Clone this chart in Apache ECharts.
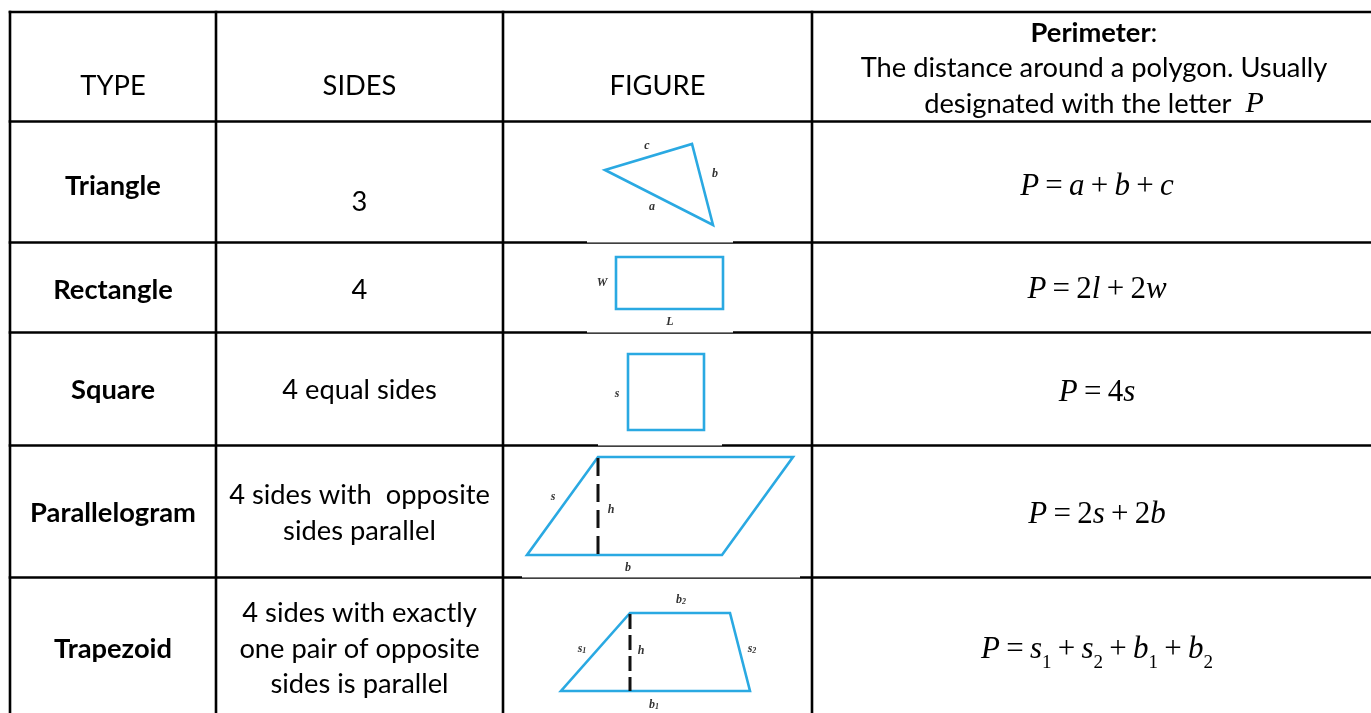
<!DOCTYPE html>
<html>
<head>
<meta charset="utf-8">
<script src="https://cdn.jsdelivr.net/npm/echarts@6/dist/echarts.min.js"></script>
<style>
    html, body { margin: 0; padding: 0; background: #fff; }
    #main { width: 1371px; height: 713px; }
</style>
</head>
<body>
<div id="main"></div>
<script>
    // table frame (column / row boundaries)
    var colX = [10, 216, 503, 812, 1371];
    var rowY = [12, 121.5, 242.5, 332.5, 445.5, 577.5, 713];

    // cell text
    var headers = ['TYPE', 'SIDES', 'FIGURE'];
    var types = ['Triangle', 'Rectangle', 'Square', 'Parallelogram', 'Trapezoid'];
    var sides = ['3', '4', '4 equal sides', '4 sides with  opposite\nsides parallel', '4 sides with exactly\none pair of opposite\nsides is parallel'];
    var perimeterHead = '{b|Perimeter}{n|:}\n{n|The distance around a polygon. Usually}\n{n|designated with the letter  }{p|P}';
    var formulas = [
        '{i|P}{g| }={g| }{i|a}{g| }+{g| }{i|b}{g| }+{g| }{i|c}',
        '{i|P}{g| }={g| }2{i|l}{g| }+{g| }2{i|w}',
        '{i|P}{g| }={g| }4{i|s}',
        '{i|P}{g| }={g| }2{i|s}{g| }+{g| }2{i|b}',
        '{i|P}{g| }={g| }{i|s}{s|1}{g| }+{g| }{i|s}{s|2}{g| }+{g| }{i|b}{s|1}{g| }+{g| }{i|b}{s|2}'
    ];

    // figures (vertices)
    var triangle = [[605, 170], [692, 144], [713, 225]];
    var rectangle = [[616, 257], [723, 257], [723, 309], [616, 309]];
    var square = [[628, 354], [704, 354], [704, 430], [628, 430]];
    var parallelogram = [[598, 457], [793, 457], [722, 555], [527, 555]];
    var trapezoid = [[630, 613], [730, 613], [750, 691], [561, 691]];
    var heights = [[598, 458, 598, 555], [630, 614, 630, 691]];
    var figLabels = [
        ['c', 647, 146], ['b', 715, 174], ['a', 652, 207],
        ['W', 602, 283], ['L', 670, 322],
        ['s', 617, 394],
        ['s', 553, 497], ['h', 611, 510], ['b', 628, 568],
        ['b{ls|2}', 681, 600], ['s{ls|1}', 582, 649], ['h', 641, 651], ['s{ls|2}', 752, 649], ['b{ls|1}', 654, 705]
    ];
    // white picture backgrounds that sit over the row lines
    var imgBoxes = [[587, 130, 733, 242.5], [587, 250, 733, 332.5], [598, 340, 722, 445.5], [522, 450, 800, 577.5]];

    var blue = '#2aa9e2';
    var textFont = 'Lato';
    var mathFont = 'Liberation Serif';
    var textSize = 27.3;

    var lineData = [];
    rowY.slice(0, -1).forEach(function (y) { lineData.push([colX[0], y, colX[4], y]); });
    colX.slice(0, -1).forEach(function (x) { lineData.push([x, rowY[0], x, rowY[6]]); });

    var shapes = [triangle, rectangle, square, parallelogram, trapezoid];

    // text items: [x, y, kind, text]
    var colMid = [113, 359.5, 657.5, 1097];
    var rowTextY = [186, 290, 390, 513, 649];
    var sidesY = [202, 290, 390, 513, 649];
    var formulaY = [187, 290, 393, 515, 650];
    var texts = [];
    headers.forEach(function (h, i) { texts.push([colMid[i], 86, 'head', h]); });
    texts.push([1094, 68.5, 'perim', perimeterHead]);
    types.forEach(function (t, i) { texts.push([colMid[0], rowTextY[i], 'type', t]); });
    sides.forEach(function (t, i) { texts.push([colMid[1], sidesY[i], 'side', t]); });
    formulas.forEach(function (t, i) { texts.push([colMid[3], formulaY[i], 'math', t]); });
    figLabels.forEach(function (l) { texts.push([l[1], l[2], 'fig', l[0]]); });

    var mathRich = {
        i: { fontFamily: mathFont, fontSize: 31, fontStyle: 'italic', lineHeight: 46, fill: '#000' },
        g: { fontFamily: mathFont, fontSize: 25, lineHeight: 46, fill: '#000' },
        s: { fontFamily: mathFont, fontSize: 19, lineHeight: 19, verticalAlign: 'bottom', fill: '#000' }
    };
    var headRich = {
        b: { fontFamily: textFont, fontSize: textSize, fontWeight: 'bold', lineHeight: 35.5, fill: '#000' },
        n: { fontFamily: textFont, fontSize: textSize, lineHeight: 35.5, fill: '#000' },
        p: { fontFamily: mathFont, fontSize: 30, fontStyle: 'italic', lineHeight: 35.5, fill: '#000' }
    };
    var figRich = {
        ls: { fontFamily: mathFont, fontSize: 8, fontStyle: 'italic', fontWeight: 'bold', verticalAlign: 'bottom', fill: '#333' }
    };

    function textStyle(kind, str) {
        var st = { text: str, align: 'center', verticalAlign: 'middle', fill: '#000' };
        if (kind == 'head' || kind == 'side') {
            st.fontFamily = textFont; st.fontSize = textSize; st.lineHeight = 35.5;
        } else if (kind == 'type') {
            st.fontFamily = textFont; st.fontSize = textSize; st.fontWeight = 'bold';
        } else if (kind == 'perim') {
            st.rich = headRich;
        } else if (kind == 'math') {
            st.fontFamily = mathFont; st.fontSize = 31; st.lineHeight = 46;
            st.rich = mathRich;
        } else {
            st.fontFamily = mathFont; st.fontSize = 12; st.fontStyle = 'italic'; st.fontWeight = 'bold';
            st.fill = '#333'; st.rich = figRich;
        }
        return st;
    }

    var option = {
        animation: false,
        backgroundColor: '#fff',
        grid: { left: 0, right: 0, top: 0, bottom: 0 },
        xAxis: { type: 'value', min: 0, max: 1371, show: false },
        yAxis: { type: 'value', min: 0, max: 713, inverse: true, show: false },
        series: [
            {
                name: 'frame',
                type: 'custom',
                clip: false,
                z: 1,
                data: lineData,
                renderItem: function (params, api) {
                    var a = api.coord([api.value(0), api.value(1)]);
                    var b = api.coord([api.value(2), api.value(3)]);
                    return {
                        type: 'line',
                        shape: { x1: a[0], y1: a[1], x2: b[0], y2: b[1] },
                        style: { stroke: '#000', lineWidth: 2.6, lineCap: 'square' }
                    };
                }
            },
            {
                name: 'pictures',
                type: 'custom',
                clip: false,
                z: 2,
                data: imgBoxes,
                renderItem: function (params, api) {
                    var a = api.coord([api.value(0), api.value(1)]);
                    var b = api.coord([api.value(2), api.value(3)]);
                    return {
                        type: 'rect',
                        shape: { x: a[0], y: a[1], width: b[0] - a[0], height: b[1] - a[1] },
                        style: { fill: '#fff' }
                    };
                }
            },
            {
                name: 'shapes',
                type: 'custom',
                clip: false,
                z: 3,
                data: shapes.map(function (s, i) { return [i]; }),
                renderItem: function (params, api) {
                    var pts = shapes[api.value(0)].map(function (p) { return api.coord(p); });
                    return {
                        type: 'polygon',
                        shape: { points: pts },
                        style: { fill: 'none', stroke: blue, lineWidth: 2.6, lineJoin: 'miter' }
                    };
                }
            },
            {
                name: 'heights',
                type: 'custom',
                clip: false,
                z: 4,
                data: heights,
                renderItem: function (params, api) {
                    var a = api.coord([api.value(0), api.value(1)]);
                    var b = api.coord([api.value(2), api.value(3)]);
                    var dash = params.dataIndex == 0 ? [18, 8] : [15, 6];
                    return {
                        type: 'line',
                        shape: { x1: a[0], y1: a[1], x2: b[0], y2: b[1] },
                        style: { stroke: '#111', lineWidth: 3, lineDash: dash }
                    };
                }
            },
            {
                name: 'texts',
                type: 'custom',
                clip: false,
                z: 5,
                data: texts.map(function (t, i) { return [t[0], t[1], i]; }),
                renderItem: function (params, api) {
                    var t = texts[api.value(2)];
                    var p = api.coord([api.value(0), api.value(1)]);
                    return {
                        type: 'text',
                        x: p[0],
                        y: p[1],
                        style: textStyle(t[2], t[3])
                    };
                }
            }
        ]
    };

    var chart = echarts.init(document.getElementById('main'));
    chart.setOption(option);
</script>
</body>
</html>
